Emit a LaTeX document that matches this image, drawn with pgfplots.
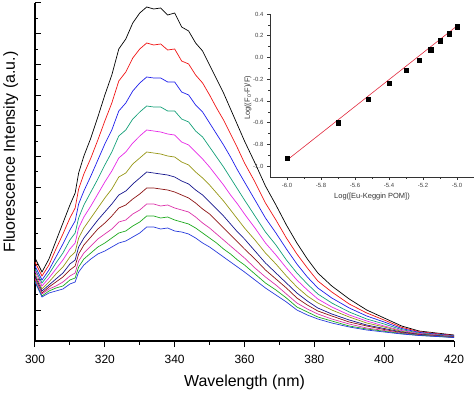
\documentclass[border=0pt]{standalone}
\usepackage{fontspec}
\setmainfont{Liberation Sans}
\usepackage{pgfplots}
\pgfplotsset{compat=1.18}
\usepackage{pgfplotstable}

\definecolor{c1}{RGB}{0,0,0}
\definecolor{c2}{RGB}{240,20,20}
\definecolor{c3}{RGB}{30,30,235}
\definecolor{c4}{RGB}{20,160,120}
\definecolor{c5}{RGB}{230,40,230}
\definecolor{c6}{RGB}{150,150,20}
\definecolor{c7}{RGB}{20,20,140}
\definecolor{c8}{RGB}{140,20,20}
\definecolor{c9}{RGB}{220,50,170}
\definecolor{c10}{RGB}{30,170,30}
\definecolor{c11}{RGB}{40,60,220}
\definecolor{fitred}{RGB}{225,40,60}

\pgfplotstableread{
x a b c d e f g h i j k
300 83 79 75 72 70 67 65 63 62 60 59
302 69 65 61 58 55 52 50 48 47 45 44
304 82 76 71 67 63 59 56 54 52 50 48
306 100 92 84 78 72 67 62 59 55 53 50
308 118 107 97 88 81 74 68 64 59 55 52
310 136 123 111 101 92 84 77 71 65 61 57
311.5 148 133 120 108 98 89 81 75 68 63 59
312.5 168 152 137 123 113 103 94 87 80 74 69
314 185 167 150 136 124 113 103 96 88 82 76
316 203 183 165 149 135 123 112 104 95 88 82
318 224 201 181 162 147 133 121 112 102 94 87
320 246 220 197 176 159 143 129 118 107 98 90
322 266 238 211 189 170 152 137 125 112 103 94
324 292 260 230 205 183 164 146 133 119 108 98
326 302 269 238 211 189 168 150 136 121 110 100
328 318 283 250 222 198 177 157 142 127 115 104
330 328 292 258 229 205 183 163 147 131 119 108
332 334 298 264 235 211 189 169 153 137 125 114
334 332 296 263 234 210 188 168 153 137 125 114
336 333 297 263 234 209 187 167 152 135 123 112
338 326 291 259 230 207 185 166 151 136 124 113
340 328 292 259 230 206 184 164 149 133 121 110
342 314 280 249 222 199 179 160 146 131 119 109
344 310 277 246 219 196 176 157 143 129 117 107
346 298 266 236 210 189 169 151 138 124 113 103
348 290 258 229 204 182 163 146 132 118 108 98
350 276 246 218 194 174 156 139 127 113 103 94
352 262 233 207 184 165 148 132 120 107 98 89
354 248 221 196 174 156 140 125 113 101 92 84
356 232 207 184 163 146 131 117 106 95 87 79
358 216 193 171 152 137 122 109 99 89 81 74
360 200 178 159 141 127 113 102 92 83 76 69
363 178 159 141 125 113 101 90 82 73 67 61
366 155 138 123 109 98 88 78 71 64 58 53
369 136 121 108 96 86 77 68 62 56 51 46
372 116 103 92 81 73 65 58 53 47 43 39
375 98 87 77 68 61 54 48 43 38 34 31
378 82 73 64 57 51 45 40 36 32 29 26
381 68 60 53 47 42 38 33 30 27 24 22
385 55 49 43 38 34 31 27 25 22 20 18
390 42 37 33 29 26 24 21 19 17 15 14
395 31 28 25 22 20 18 16 15 13 12 11
400 23 21 19 17 15 14 12.5 11.5 10.5 9.7 9
405 15 13.7 12.5 11.4 10.5 9.7 9 8.4 7.8 7.4 7
410 10 9.3 8.6 8 7.5 7 6.6 6.3 6 5.7 5.5
415 8 7.4 6.9 6.4 6 5.7 5.4 5.1 4.9 4.7 4.5
420 6 5.6 5.2 4.9 4.6 4.3 4.1 3.9 3.8 3.6 3.5
}\spectra

\begin{document}
\begin{tikzpicture}
\useasboundingbox (-35bp,-52bp) rectangle (439bp,341bp);
\begin{axis}[
  at={(0,0)}, anchor=south west,
  scale only axis, width=419bp, height=338bp,
  xmin=300, xmax=420, ymin=0, ymax=338,
  axis x line*=bottom, axis y line*=left,
  axis line style={line width=1.3bp},
  xtick={300,320,...,420}, minor xtick={310,330,350,370,390,410},
  ytick={0,30.73,61.45,92.18,122.91,153.64,184.36,215.09,245.82,276.55,307.27,338},
  minor ytick={15.36,46.09,76.82,107.55,138.27,169.0,199.73,230.45,261.18,291.91,322.64},
  yticklabels={},
  tick align=inside,
  major tick length=6bp, minor tick length=3.5bp,
  tick style={line width=1bp, black},
  every major x tick/.append style={yshift=-6bp},
  every minor x tick/.append style={yshift=-3.5bp},
  /pgf/number format/assume math mode=true,
  xticklabel style={font=\fontsize{12}{12}\selectfont, anchor=north, inner sep=0pt, yshift=-13.5bp},
  xlabel={Wavelength (nm)},
  xlabel style={font=\fontsize{16}{16}\selectfont, at={(axis description cs:0.5,0)}, anchor=base, yshift=-45.5bp},
  ylabel={Fluorescence Intensity (a.u.)},
  ylabel style={font=\fontsize{16}{16}\selectfont, at={(axis description cs:-0.058,0.559)}, anchor=center},
  every axis plot/.append style={line width=0.7bp},
]
\addplot[c1] table[x=x,y=a]{\spectra};
\addplot[c2] table[x=x,y=b]{\spectra};
\addplot[c3] table[x=x,y=c]{\spectra};
\addplot[c4] table[x=x,y=d]{\spectra};
\addplot[c5] table[x=x,y=e]{\spectra};
\addplot[c6] table[x=x,y=f]{\spectra};
\addplot[c7] table[x=x,y=g]{\spectra};
\addplot[c8] table[x=x,y=h]{\spectra};
\addplot[c9] table[x=x,y=i]{\spectra};
\addplot[c10] table[x=x,y=j]{\spectra};
\addplot[c11] table[x=x,y=k]{\spectra};
\end{axis}

\begin{axis}[
  at={(235bp,164bp)}, anchor=south west,
  scale only axis, width=204bp, height=163bp,
  xmin=-6.1, xmax=-4.9, ymin=-1.1, ymax=0.4,
  axis x line*=bottom, axis y line*=left,
  axis line style={line width=0.6bp, black!80},
  tick align=outside,
  major tick length=3bp, minor tick length=1.8bp,
  tick style={line width=0.5bp, black!80},
  xtick={-6,-5.8,-5.6,-5.4,-5.2,-5}, minor x tick num=1,
  ytick={-1,-0.8,-0.6,-0.4,-0.2,0,0.2,0.4}, minor y tick num=1,
  /pgf/number format/assume math mode=true,
  /pgf/number format/.cd, fixed, fixed zerofill, precision=1, /pgfplots/.cd,
  tick label style={font=\fontsize{6}{6}\selectfont, text=black!75},
  xlabel={Log([Eu-Keggin POM])},
  xlabel style={font=\fontsize{7.5}{7.5}\selectfont, text=black!80, at={(axis description cs:0.5,0)}, anchor=base, yshift=-22bp},
  ylabel={Log((F\textsubscript{0}-F)/F)},
  ylabel style={font=\fontsize{7.5}{7.5}\selectfont, text=black!80, at={(axis description cs:-0.108,0.485)}, anchor=center},
]
\addplot[fitred, line width=0.6bp] coordinates {(-6.0,-0.945) (-5.0,0.29)};
\addplot[only marks, mark=square*, mark size=2.1bp, black] coordinates {
(-6.000,-0.930) (-5.699,-0.600) (-5.523,-0.385) (-5.398,-0.237) (-5.301,-0.120)
(-5.222,-0.022) (-5.155,0.071) (-5.097,0.154) (-5.046,0.218) (-5.000,0.283)};
\end{axis}
\end{tikzpicture}
\end{document}
